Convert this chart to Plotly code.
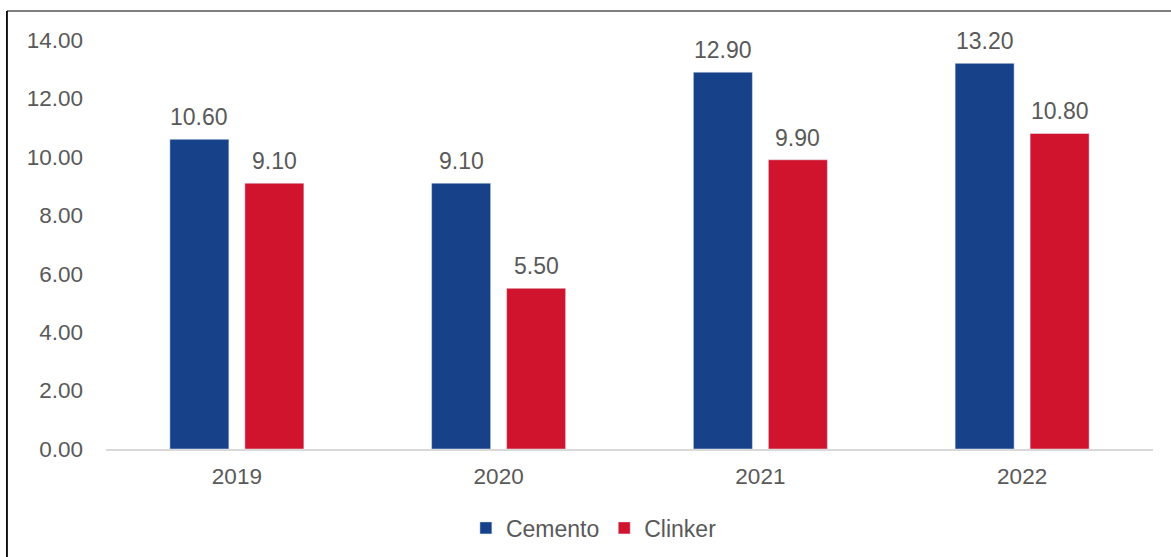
import plotly.graph_objects as go

years = ["2019", "2020", "2021", "2022"]
cemento = [10.60, 9.10, 12.90, 13.20]
clinker = [9.10, 5.50, 9.90, 10.80]
y_ticks = [0, 2, 4, 6, 8, 10, 12, 14]

font_family = "Liberation Sans, Arial, sans-serif"
gray = "#595959"
blue = "#17428A"
red = "#D0142E"

fig = go.Figure()
fig.add_trace(go.Bar(name="Cemento", x=years, y=cemento, marker_color=blue, textposition="none"))
fig.add_trace(go.Bar(name="Clinker", x=years, y=clinker, marker_color=red, textposition="none"))

annotations = []
for vals, xs in ((cemento, -37.5), (clinker, 37.5)):
    for i, v in enumerate(vals):
        annotations.append(dict(x=i, y=v, xref="x", yref="y", text=f"{v:.2f}", showarrow=False,
                                xshift=xs, yshift=7, yanchor="bottom",
                                font=dict(size=23, color=gray, family=font_family)))

fig.update_layout(
    width=1171, height=557,
    margin=dict(l=106, r=18, t=40, b=108, autoexpand=False),
    paper_bgcolor="white", plot_bgcolor="white",
    barmode="group", bargap=0.427, bargroupgap=0.213,
    font=dict(family=font_family, color=gray, size=22),
    showlegend=True,
    legend=dict(orientation="h", x=0.466, xanchor="center", y=-0.193, yanchor="middle",
                font=dict(size=23, color=gray, family=font_family), itemwidth=30, traceorder="normal"),
    xaxis=dict(type="category", range=[-0.5, 3.5], showline=True, linecolor="#D9D9D9", linewidth=2,
               showgrid=False, tickfont=dict(size=22.5, color=gray), ticks="", ticklabelstandoff=6,
               automargin=False),
    yaxis=dict(range=[0, 14], tickvals=y_ticks, tickformat=".2f", showgrid=False,
               zeroline=False, showline=False, tickfont=dict(size=22.5, color=gray),
               ticklabelstandoff=22, automargin=False),
    annotations=annotations,
    shapes=[
        dict(type="line", xref="paper", yref="paper", x0=-0.0946, x1=1.05, y0=1.0709, y1=1.0709,
             line=dict(color="black", width=1.2)),
        dict(type="line", xref="paper", yref="paper", x0=-0.0946, x1=-0.0946, y0=1.0709, y1=-0.4,
             line=dict(color="black", width=1.8)),
    ],
)

fig.write_html("out.html")
